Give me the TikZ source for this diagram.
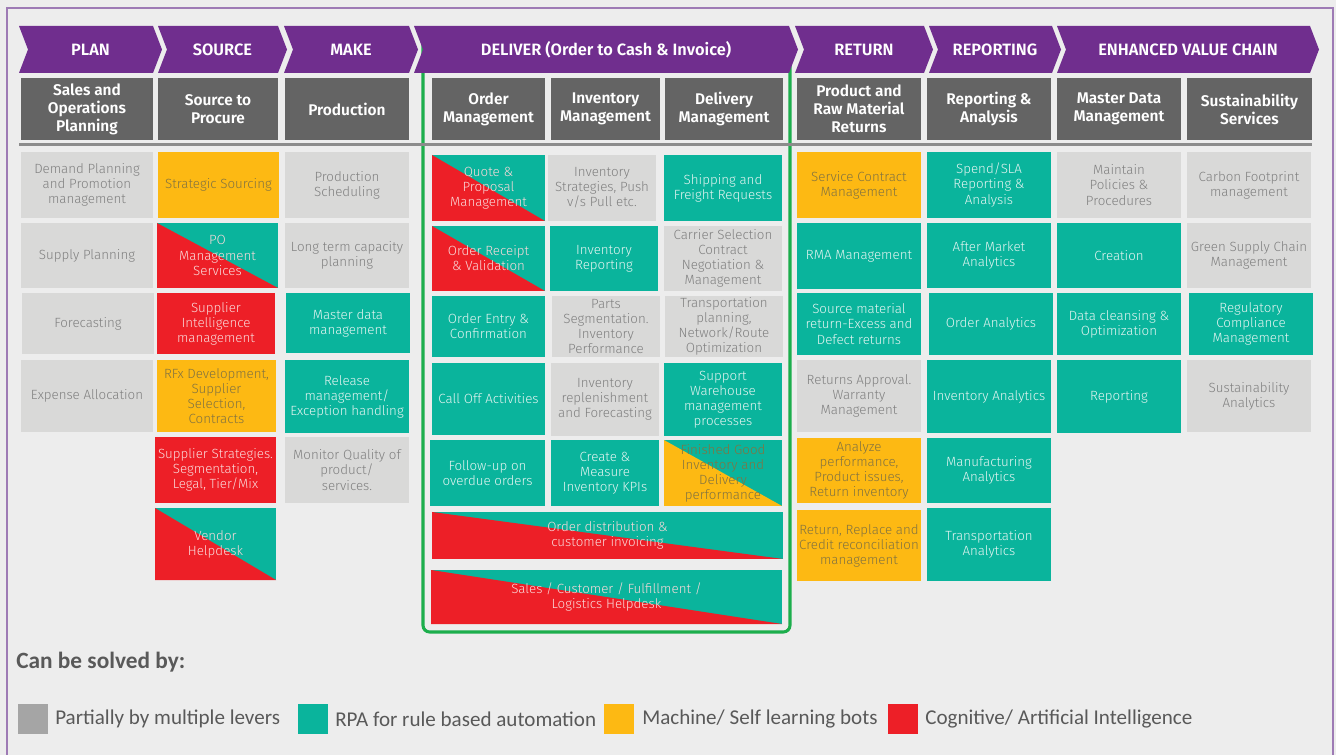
\documentclass[tikz,border=0pt]{standalone}
\usepackage{fontspec}
\setmainfont{Fira Sans Light}[BoldFont={Fira Sans SemiBold}]
\newfontfamily\legendfont{Carlito}
\definecolor{cbg}{RGB}{237,237,237}
\definecolor{cframe}{RGB}{158,123,181}
\definecolor{cpurple}{RGB}{112,46,142}
\definecolor{chead}{RGB}{100,100,100}
\definecolor{cgreen}{RGB}{28,174,76}
\definecolor{cline}{RGB}{140,140,140}
\definecolor{cgray}{RGB}{217,217,216}
\definecolor{cteal}{RGB}{10,180,156}
\definecolor{cyel}{RGB}{253,185,19}
\definecolor{cred}{RGB}{237,31,39}
\definecolor{tgray}{RGB}{128,128,128}
\definecolor{twhite}{RGB}{228,245,241}
\definecolor{tyel}{RGB}{130,115,65}
\definecolor{tred}{RGB}{250,218,218}
\definecolor{clegsq}{RGB}{165,165,165}
\definecolor{clegtx}{RGB}{89,89,89}

\tikzset{
  cell/.style={inner sep=0pt, outer sep=0pt, align=center,
    font=\fontsize{10}{11.3}\selectfont},
  graycell/.style={cell, fill=cgray, text=tgray},
  tealcell/.style={cell, fill=cteal, text=twhite},
  yelcell/.style={cell, fill=cyel, text=tyel},
  redcell/.style={cell, fill=cred, text=tred},
  redteal/.style={cell, fill=cteal, text=tred,
    path picture={\fill[cred] (path picture bounding box.north west)
      -- (path picture bounding box.south east)
      -- (path picture bounding box.south west) -- cycle;}},
  yelteal/.style={cell, fill=cteal, text=tyel,
    path picture={\fill[cyel] (path picture bounding box.north west)
      -- (path picture bounding box.south east)
      -- (path picture bounding box.south west) -- cycle;}},
  headcell/.style={inner sep=0pt, outer sep=0pt, align=center, fill=chead,
    text=white, font=\bfseries\fontsize{11.6}{13.6}\selectfont},
  chevtext/.style={text=white, inner sep=0pt,
    font=\bfseries\fontsize{12.3}{14}\selectfont},
  legsq/.style={inner sep=0pt, minimum width=22pt, minimum height=22pt, anchor=north west},
  legtext/.style={inner sep=0pt, anchor=west, text=clegtx,
    font=\legendfont\fontsize{15.8}{18}\selectfont},
}

% a tile: name, style, x1, y1, x2, y2, text (pixel grid, y downwards)
\newcommand\tile[7]{%
  \pgfmathsetmacro\tilew{(#5-#3)*0.75}%
  \pgfmathsetmacro\tileh{(#6-#4)*0.75}%
  \node[#2, minimum width=\tilew pt, minimum height=\tileh pt,
    anchor=north west] (#1) at (#3,#4) {#7};}

% a process chevron: name, left x, right x, label
\newcommand\chev[4]{%
  \pgfmathsetmacro\chevtip{#3+9}%
  \pgfmathsetmacro\chevnotch{#2+9}%
  \pgfmathsetmacro\chevmid{(#2+#3+9)/2}%
  \fill[cpurple] (#2,26) -- (#3,26) -- (\chevtip,49.5) -- (#3,73)
    -- (#2,73) -- (\chevnotch,49.5) -- cycle;
  \node[chevtext] (#1) at (\chevmid,49.5) {#4};}

\begin{document}
\begin{tikzpicture}[x=0.75pt, y=-0.75pt]
\useasboundingbox (0,0) rectangle (1336,755);
\fill[cbg] (0,0) rectangle (1336,755);

% outer frame
\draw[cframe, line width=1.2pt] (7,760) -- (7,8) -- (1333,8) -- (1333,760);

% frame around the delivery block
\draw[cgreen, line width=2.3pt, rounded corners=5pt]
  (423,40) -- (423,632) -- (790,632) -- (790,40);

% process chevrons
\chev{cplan}{19}{153}{PLAN}
\chev{csource}{158}{278}{SOURCE}
\chev{cmake}{284}{409}{MAKE}
\chev{cdeliver}{414}{789}{DELIVER (Order to Cash \& Invoice)}
\chev{creturn}{795}{924}{RETURN}
\chev{creport}{929}{1052}{REPORTING}
\chev{cevc}{1057}{1310}{ENHANCED VALUE CHAIN}

% sub-process headers
\tile{h1}{headcell}{21}{78}{153}{140}{Sales and\\Operations\\Planning}
\tile{h2}{headcell}{158}{78}{278}{140}{Source to\\Procure}
\tile{h3}{headcell}{285}{78}{409}{140}{Production}
\tile{h4}{headcell}{432}{78}{545}{140}{Order\\Management}
\tile{h5}{headcell}{551}{78}{660}{140}{Inventory\\Management}
\tile{h6}{headcell}{665}{78}{783}{140}{Delivery\\Management}
\tile{h7}{headcell}{797}{78}{921}{140}{Product and\\Raw Material\\Returns}
\tile{h8}{headcell}{927}{78}{1051}{140}{Reporting \&\\Analysis}
\tile{h9}{headcell}{1057}{78}{1181}{140}{Master Data\\Management}
\tile{h10}{headcell}{1187}{78}{1312}{140}{Sustainability\\Services}

\draw[cline, line width=1.6pt] (19,144.5) -- (1312,144.5);

% plan
\tile{a1}{graycell}{21}{152}{153}{218}{Demand Planning\\and Promotion\\management}
\tile{a2}{graycell}{21}{223}{153}{288}{Supply Planning}
\tile{a3}{graycell}{22}{293}{154}{354}{Forecasting}
\tile{a4}{graycell}{21}{360}{153}{432}{Expense Allocation}

% source
\tile{b1}{yelcell}{158}{152}{279}{218}{Strategic Sourcing}
\tile{b2}{redteal}{157}{223}{278}{288}{PO\\Management\\Services}
\tile{b3}{redcell}{157}{293}{275}{354}{Supplier\\Intelligence\\management}
\tile{b4}{yelcell}{157}{360}{276}{432}{RFx Development,\\Supplier\\Selection,\\Contracts}
\tile{b5}{redcell}{155}{437}{276}{503}{Supplier Strategies.\\Segmentation,\\Legal, Tier/Mix}
\tile{b6}{redteal}{155}{508}{276}{580}{Vendor\\Helpdesk}

% make
\tile{c1}{graycell}{285}{152}{409}{218}{Production\\Scheduling}
\tile{c2}{graycell}{285}{223}{409}{288}{Long term capacity\\planning}
\tile{c3}{tealcell}{286}{293}{410}{353}{Master data\\management}
\tile{c4}{tealcell}{285}{360}{409}{433}{Release\\management/\\Exception handling}
\tile{c5}{graycell}{285}{437}{409}{503}{Monitor Quality of\\product/\\services.}

% deliver: order management
\tile{d1}{redteal}{432}{155}{545}{221}{Quote \&\\Proposal\\Management}
\tile{d2}{redteal}{432}{226}{545}{291}{Order Receipt\\\& Validation}
\tile{d3}{tealcell}{432}{296}{545}{357}{Order Entry \&\\Confirmation}
\tile{d4}{tealcell}{432}{363}{545}{435}{Call Off Activities}
\tile{d5}{tealcell}{430}{440}{545}{506}{Follow-up on\\overdue orders}

% deliver: inventory management
\tile{e1}{graycell}{548}{155}{656}{221}{Inventory\\Strategies, Push\\v/s Pull etc.}
\tile{e2}{tealcell}{550}{226}{658}{291}{Inventory\\Reporting}
\tile{e3}{graycell}{552}{296}{660}{357}{Parts\\Segmentation.\\Inventory\\Performance}
\tile{e4}{graycell}{551}{363}{659}{436}{Inventory\\replenishment\\and Forecasting}
\tile{e5}{tealcell}{551}{440}{659}{506}{Create \&\\Measure\\Inventory KPIs}

% deliver: delivery management
\tile{f1}{tealcell}{664}{155}{782}{221}{Shipping and\\Freight Requests}
\tile{f2}{graycell}{664}{226}{782}{291}{Carrier Selection\\Contract\\Negotiation \&\\Management}
\tile{f3}{graycell}{665}{296}{783}{357}{Transportation\\planning,\\Network/Route\\Optimization}
\tile{f4}{tealcell}{664}{363}{782}{436}{Support\\Warehouse\\management\\processes}
\tile{f5}{yelteal}{664}{440}{782}{506}{Finished Good\\Inventory and\\Delivery\\performance}

% deliver: full-width rows
\tile{g1}{redteal}{432}{512}{783}{559}{Order distribution \&\\customer invoicing}
\tile{g2}{redteal}{431}{570}{782}{624}{Sales / Customer / Fulfillment /\\Logistics Helpdesk}

% return
\tile{r1}{yelcell}{797}{152}{921}{218}{Service Contract\\Management}
\tile{r2}{tealcell}{797}{223}{921}{289}{RMA Management}
\tile{r3}{tealcell}{797}{293}{921}{355}{Source material\\return-Excess and\\Defect returns}
\tile{r4}{graycell}{797}{360}{921}{432}{Returns Approval.\\Warranty\\Management}
\tile{r5}{yelcell}{797}{438}{921}{503}{Analyze\\performance,\\Product issues,\\Return inventory}
\tile{r6}{yelcell}{797}{510}{921}{581}{Return, Replace and\\Credit reconciliation\\management}

% reporting
\tile{p1}{tealcell}{927}{152}{1051}{218}{Spend/SLA\\Reporting \&\\Analysis}
\tile{p2}{tealcell}{927}{223}{1051}{288}{After Market\\Analytics}
\tile{p3}{tealcell}{929}{293}{1053}{355}{Order Analytics}
\tile{p4}{tealcell}{927}{360}{1051}{433}{Inventory Analytics}
\tile{p5}{tealcell}{927}{438}{1051}{503}{Manufacturing\\Analytics}
\tile{p6}{tealcell}{927}{508}{1051}{581}{Transportation\\Analytics}

% master data management
\tile{m1}{graycell}{1057}{152}{1181}{218}{Maintain\\Policies \&\\Procedures}
\tile{m2}{tealcell}{1057}{223}{1181}{288}{Creation}
\tile{m3}{tealcell}{1057}{293}{1181}{355}{Data cleansing \&\\Optimization}
\tile{m4}{tealcell}{1057}{360}{1181}{433}{Reporting}

% sustainability services
\tile{s1}{graycell}{1187}{152}{1311}{218}{Carbon Footprint\\management}
\tile{s2}{graycell}{1187}{223}{1311}{288}{Green Supply Chain\\Management}
\tile{s3}{tealcell}{1189}{293}{1313}{355}{Regulatory\\Compliance\\Management}
\tile{s4}{graycell}{1187}{360}{1311}{432}{Sustainability\\Analytics}

% legend
\node[anchor=west, inner sep=0pt, text=clegtx,
  font=\legendfont\bfseries\fontsize{17.5}{20}\selectfont] (legtitle) at (16,662) {Can be solved by:};
\node[legsq, fill=clegsq] (lq1) at (18,704) {};
\node[legtext] (lt1) at (55,719) {Partially by multiple levers};
\node[legsq, fill=cteal] (lq2) at (298,704) {};
\node[legtext] (lt2) at (335,719) {RPA for rule based automation};
\node[legsq, fill=cyel] (lq3) at (604,704) {};
\node[legtext] (lt3) at (642,719) {Machine/ Self learning bots};
\node[legsq, fill=cred] (lq4) at (888,704) {};
\node[legtext] (lt4) at (925,719) {Cognitive/ Artificial Intelligence};
\end{tikzpicture}
\end{document}
